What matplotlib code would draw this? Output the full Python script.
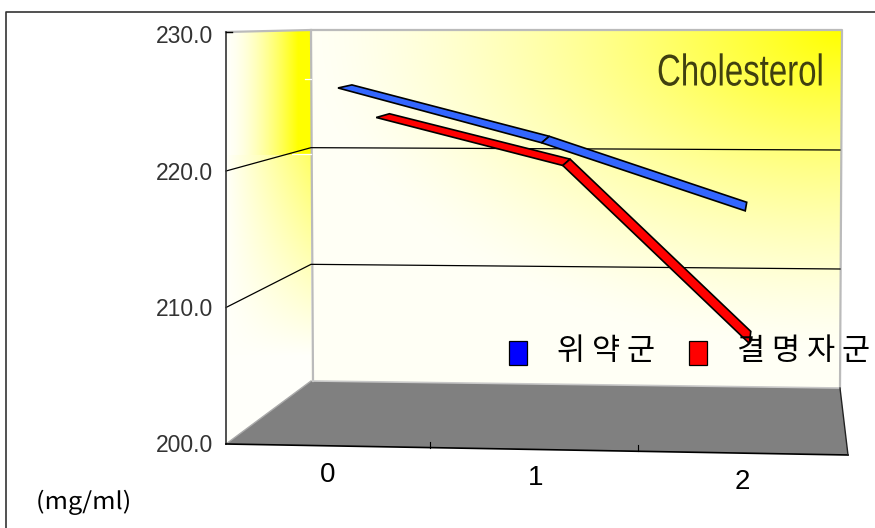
#! /usr/bin/env python3
#

import numpy as np
import matplotlib
matplotlib.use('Agg')
import matplotlib.pyplot as plt
from matplotlib.patches import Polygon
from matplotlib.patheffects import AbstractPathEffect
from matplotlib.transforms import Affine2D

categories = ['0', '1', '2']
placebo = [226.0, 222.0, 217.1]
cassia = [223.1, 219.3, 205.2]
value_ticks = [200.0, 210.0, 220.0, 230.0]
legend_names = ['위 약 군', '결 명 자 군']

#  Pixel corners of the fake 3D box.
FL = np.array([226.0, 444.0])
FR = np.array([848.0, 455.0])
BL = np.array([311.0, 381.0])
BR = np.array([840.0, 388.0])
TOP_FRONT = 34.5
TOP_BACK = 31.0
VMIN = 200.0
VMAX = 230.0


class SqueezeX(AbstractPathEffect):

    #  Scales the glyphs sideways about a fixed display x.

    def __init__(self, sx, x0):
        super().__init__()
        self.sx = sx
        self.x0 = x0

    def draw_path(self, renderer, gc, tpath, affine, rgbFace=None):
        squeeze = Affine2D().translate(-self.x0, 0).scale(self.sx, 1).translate(self.x0, 0)
        renderer.draw_path(gc, tpath, affine + squeeze, rgbFace)


def project(u, val, d):

    #  u is the fraction along the category axis, d the depth, val the value.
    front = FL + (FR - FL) * u
    back = BL + (BR - BL) * u
    base = front + (back - front) * d
    top = TOP_FRONT + (TOP_BACK - TOP_FRONT) * d
    y = base[1] - (base[1] - top) * (val - VMIN) / (VMAX - VMIN)
    return base[0], y


def ribbon(ax, values, d0, d1, color, lift):

    n = len(values)
    lifts = [lift * 0.3] + [lift] * (n - 1)
    for i in range(n - 1):
        u0 = (i + 0.5) / n
        u1 = (i + 1.5) / n
        a = project(u0, values[i], d0)
        b = project(u1, values[i + 1], d0)
        c = project(u1, values[i + 1], d1)
        e = project(u0, values[i], d1)
        pts = [a, b, (c[0], c[1] - lifts[i + 1]), (e[0], e[1] - lifts[i])]
        ax.add_patch(Polygon(pts, closed=True, fc=color, ec='black', lw=1.2,
                             joinstyle='miter', zorder=5 + i * 0.1))


def gradient(ax, func, poly, base):

    xx, yy = np.meshgrid(np.arange(200, 860), np.arange(20, 460))
    t = np.clip(func(xx + 0.5, yy + 0.5), 0.0, 1.0)
    img = np.ones(xx.shape + (3,))
    img[..., 2] = (1.0 - t) * base / 255.0
    im = ax.imshow(img, extent=(200, 860, 460, 20), interpolation='bilinear',
                   aspect='auto', zorder=1)
    patch = Polygon(poly, closed=True, transform=ax.transData, fc='none', ec='none')
    ax.add_patch(patch)
    im.set_clip_path(patch)


def back_wall(x, y):

    u = (x - 311.0) / 530.0
    v = (y - 30.0) / 355.0
    return np.clip(1.0 - np.sqrt((1.0 - u) ** 2 + (v / 0.9) ** 2), 0.0, 1.0) ** 1.4


def side_wall(x, y):

    u = np.clip((x - 226.0) / 85.0, 0.0, 1.0)
    upper = np.clip(u / 0.85, 0.0, 1.0) ** 1.6
    lower = 0.6 * u * (1.0 - (y - 155.0) / 200.0)
    return np.where(y < 155.0, upper, lower)


def fit_width(fig, txt, width, keep_right=False):

    #  Stretch a text sideways so that it spans the given pixel width.
    renderer = fig.canvas.get_renderer()
    box = txt.get_window_extent(renderer)
    x0 = box.x1 if keep_right else box.x0
    txt.set_path_effects([SqueezeX(width / box.width, x0)])


fig = plt.figure(figsize=(8.75, 5.28), dpi=100)
ax = fig.add_axes([0, 0, 1, 1])
ax.set_xlim(0, 875)
ax.set_ylim(528, 0)
ax.axis('off')

#  Walls and floor.
side_poly = [(226, 32), (311, 30), (313, 381), (226, 444)]
back_poly = [(311, 30), (842, 30), (840, 388), (311, 381)]
gradient(ax, side_wall, side_poly, 250.0)
gradient(ax, back_wall, back_poly, 245.0)
ax.set_xlim(0, 875)
ax.set_ylim(528, 0)
ax.add_patch(Polygon([FL, BL, BR, FR], closed=True, fc='#808080', ec='none', zorder=2))

#  Outer frame.
ax.plot([6, 6, 875], [528, 12, 12], color='#333333', lw=1.2, zorder=3)

#  Box edges.
ax.plot([226, 311, 842, 840], [32, 30, 30, 388], color='#bbbbbb', lw=1.6, zorder=3)
ax.plot([311, 313], [30, 381], color='#bbbbbb', lw=1.6, zorder=3)
ax.plot([313, 840], [381, 388], color='#c8c8c8', lw=1.2, zorder=3)
ax.plot([226, 311], [444, 381], color='#aaaaaa', lw=1.0, zorder=3)
ax.plot([226, 226], [32, 444], color='#333333', lw=1.2, zorder=4)
ax.plot([226, 232], [32, 32], color='black', lw=1.0, zorder=4)
ax.plot([226, 848], [444, 455], color='black', lw=1.2, zorder=4)
ax.plot([840, 848], [388, 455], color='#222222', lw=1.0, zorder=4)

#  Small white marks on the yellow side wall.
ax.plot([305, 311], [79, 79], color='white', lw=0.9, zorder=3)
ax.plot([292, 311], [154, 154], color='white', lw=0.9, zorder=3)

#  Grid lines and value labels.
for val in value_ticks:
    fy = project(0.0, val, 0.0)[1]
    ax.text(213, fy + 2, '%.1f' % val, ha='right', va='center', color='#333333',
            fontsize=16.5, family='Liberation Sans', zorder=6)
    if val in (210.0, 220.0):
        x0, y0 = project(0.0, val, 0.0)
        x1, y1 = project(0.0, val, 1.0)
        x2, y2 = project(1.0, val, 1.0)
        ax.plot([x0, x1, x2], [y0, y1, y2], color='black', lw=0.9, zorder=3)

#  Category labels and ticks.
for i, name in enumerate(categories):
    x, y = project((i + 0.5) / len(categories) - 0.003, VMIN, 0.0)
    ax.text(x, y + 29, name, ha='center', va='center', color='black',
            fontsize=20, family='Liberation Sans', zorder=6)
    if i > 0:
        xt, yt = project(i / len(categories) - 0.005, VMIN, 0.0)
        ax.plot([xt, xt], [yt - 6, yt], color='black', lw=0.8, zorder=4)

#  The ribbons, red one behind the blue one.
ribbon(ax, cassia, 0.67, 0.86, '#ff0000', 1.5)
ribbon(ax, placebo, 0.12, 0.32, '#3366ff', 2.5)

#  Legend, title and unit.
ax.add_patch(Polygon([(509, 341), (527, 341), (527, 365), (509, 365)], fc='#0000ff', ec='black', lw=0.9, zorder=7))
ax.add_patch(Polygon([(689, 341), (707, 341), (707, 365), (689, 365)], fc='#ff0000', ec='black', lw=0.9, zorder=7))
ax.text(557, 352, legend_names[0], ha='left', va='center', fontsize=22,
        family='Noto Sans CJK KR', color='black', zorder=8)
ax.text(737, 352, legend_names[1], ha='left', va='center', fontsize=22,
        family='Noto Sans CJK KR', color='black', zorder=8)
title = ax.text(824, 74, 'Cholesterol', ha='right', va='center', fontsize=32,
                family='Liberation Sans', color='#404010', zorder=8)
unit = ax.text(36, 502, '(mg/ml)', ha='left', va='center', fontsize=17,
               family='Noto Sans CJK KR', color='black', zorder=8)

fig.canvas.draw()
fit_width(fig, title, 167, keep_right=True)
fit_width(fig, unit, 95)

fig.savefig('out.png', dpi=100)
